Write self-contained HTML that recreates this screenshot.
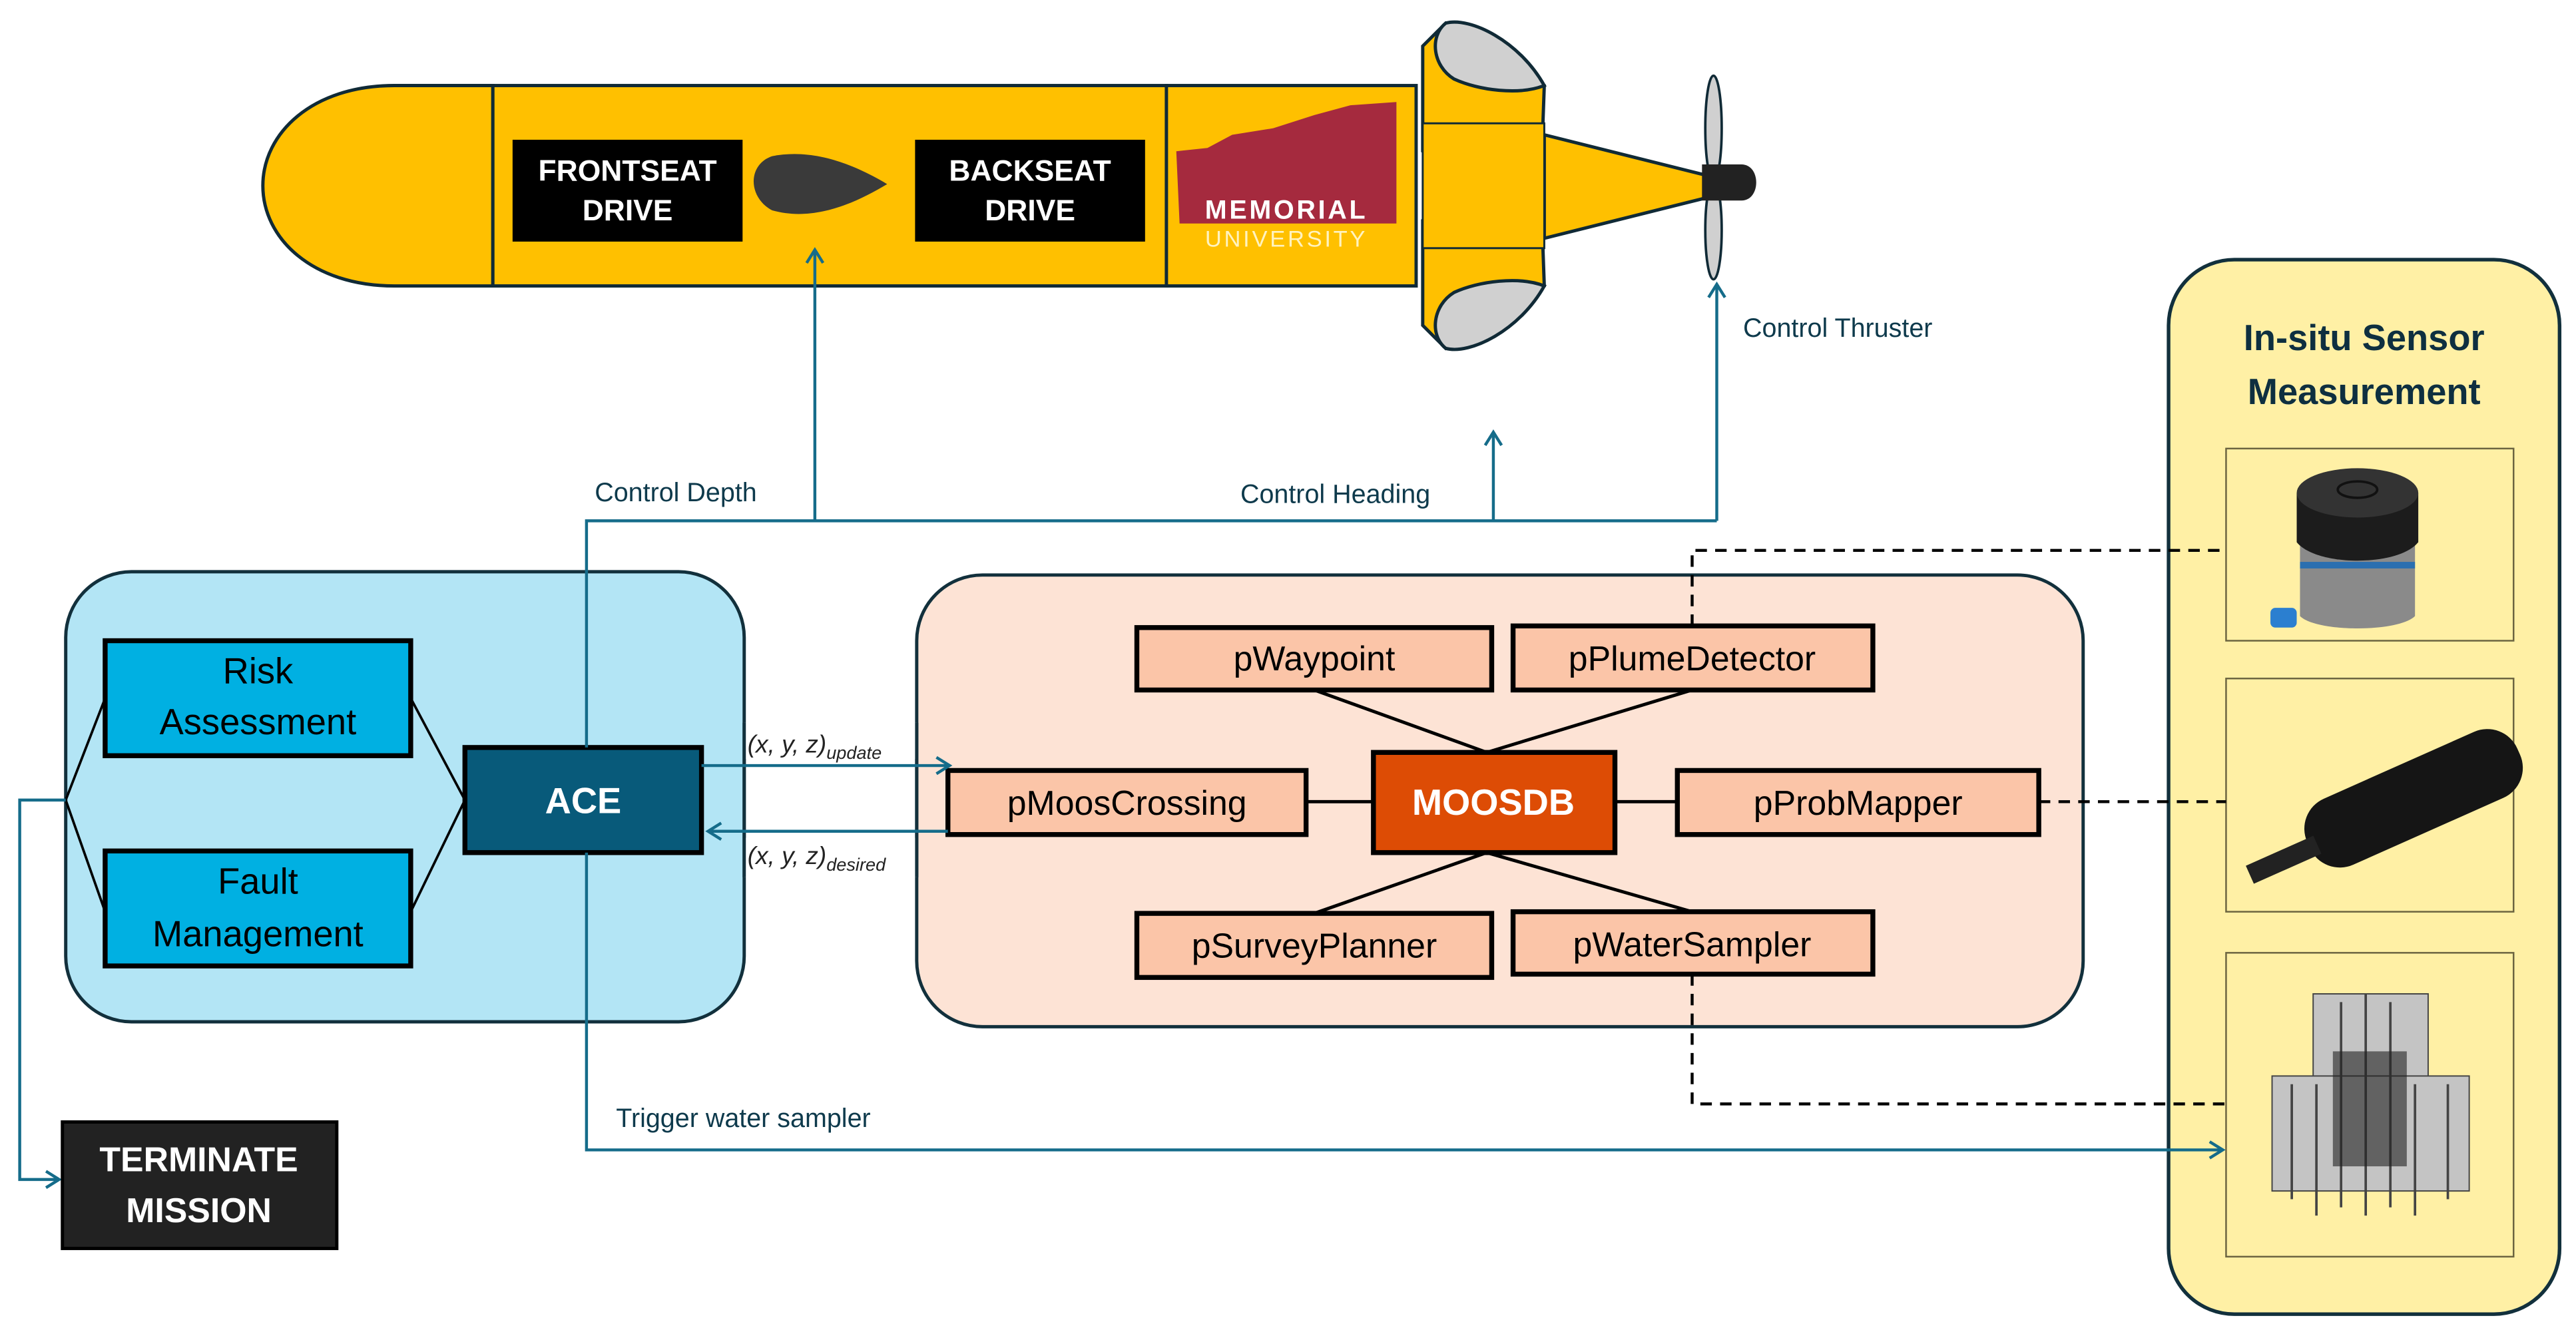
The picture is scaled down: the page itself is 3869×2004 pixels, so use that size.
<!DOCTYPE html>
<html><head><meta charset="utf-8"><style>
html,body{margin:0;padding:0;background:#fff}
svg{display:block}
text{font-family:"Liberation Sans",sans-serif}
</style></head><body>
<svg width="3869" height="2004" viewBox="0 0 1568 812" xmlns="http://www.w3.org/2000/svg">
<defs>
<marker id="ar" markerWidth="12" markerHeight="12" refX="9" refY="6" orient="auto" markerUnits="userSpaceOnUse">
<path d="M1,1 L9,6 L1,11" fill="none" stroke="#156c8a" stroke-width="1.8"/>
</marker>
</defs>

<!-- Vehicle -->
<g stroke="#102a36" stroke-width="2">
<path d="M300,52 L300,174 L240,174 C190,174 160,145 160,113 C160,81 190,52 240,52 Z" fill="#ffc000"/>
<rect x="300" y="52" width="410" height="122" fill="#ffc000"/>
<rect x="710" y="52" width="152" height="122" fill="#ffc000"/>
<path d="M940,82 L1040,107 L1040,120 L940,145 Z" fill="#ffc000"/>
<path d="M866,28 L880,14 L940,52 L938,108 L882,108 L866,92 Z" fill="#ffc000"/>
<path d="M880,14 C895,10 925,25 940,52 C925,58 900,55 885,48 C872,40 870,22 880,14 Z" fill="#d0d0d0"/>
<path d="M866,198 L880,212 L940,174 L938,118 L882,118 L866,134 Z" fill="#ffc000"/>
<path d="M880,212 C895,216 925,201 940,174 C925,168 900,171 885,178 C872,186 870,204 880,212 Z" fill="#d0d0d0"/>
<rect x="866" y="75" width="74" height="76" fill="#ffc000" stroke-width="1.2"/>
</g>
<ellipse cx="1043" cy="78" rx="5" ry="32" fill="#d0d0d0" stroke="#102a36" stroke-width="1.5"/>
<ellipse cx="1043" cy="140" rx="5" ry="30" fill="#d0d0d0" stroke="#102a36" stroke-width="1.5"/>
<path d="M1036,100 L1060,100 C1072,100 1072,122 1060,122 L1036,122 Z" fill="#222"/>

<rect x="312" y="85" width="140" height="62" fill="#000"/>
<text x="382" y="110" fill="#fff" font-size="18" font-weight="bold" text-anchor="middle">FRONTSEAT</text>
<text x="382" y="134" fill="#fff" font-size="18" font-weight="bold" text-anchor="middle">DRIVE</text>
<path d="M470,95 C495,90 520,100 540,112 C520,124 495,135 470,128 C455,120 455,100 470,95 Z" fill="#3a3a3a"/>
<rect x="557" y="85" width="140" height="62" fill="#000"/>
<text x="627" y="110" fill="#fff" font-size="18" font-weight="bold" text-anchor="middle">BACKSEAT</text>
<text x="627" y="134" fill="#fff" font-size="18" font-weight="bold" text-anchor="middle">DRIVE</text>
<path d="M716,92 L735,90 L750,82 L775,78 L800,70 L822,64 L850,62 L850,136 L718,136 Z" fill="#a52a3e"/>
<text x="783" y="133" fill="#fff" font-size="16" font-weight="bold" text-anchor="middle" letter-spacing="1.5">MEMORIAL</text>
<text x="783" y="150" fill="#fff3c0" font-size="14" text-anchor="middle" letter-spacing="1.5">UNIVERSITY</text>

<!-- Sensor panel -->
<rect x="1320" y="158" width="238" height="642" rx="40" fill="#fff0a5" stroke="#12303c" stroke-width="2.2"/>
<text x="1439" y="213" fill="#0e2f40" font-size="22" font-weight="bold" text-anchor="middle">In-situ Sensor</text>
<text x="1439" y="246" fill="#0e2f40" font-size="22" font-weight="bold" text-anchor="middle">Measurement</text>
<g fill="#fff0a5" stroke="#6b6440" stroke-width="1">
<rect x="1355" y="273" width="175" height="117"/>
<rect x="1355" y="413" width="175" height="142"/>
<rect x="1355" y="580" width="175" height="185"/>
</g>
<!-- sensor 1 -->
<path d="M1400,320 L1400,375 C1410,385 1460,385 1470,375 L1470,320 Z" fill="#8a8a8a"/>
<rect x="1400" y="342" width="70" height="4" fill="#2b6fb0"/>
<path d="M1398,300 L1398,330 C1410,345 1460,345 1472,330 L1472,300 Z" fill="#1c1c1c"/>
<ellipse cx="1435" cy="300" rx="37" ry="15" fill="#333"/>
<ellipse cx="1435" cy="298" rx="12" ry="5" fill="none" stroke="#111" stroke-width="1.5"/>
<rect x="1382" y="370" width="16" height="12" rx="3" fill="#2b7fd0"/>
<!-- sensor 2 -->
<g transform="rotate(-24 1460 490)">
<rect x="1400" y="468" width="140" height="44" rx="20" fill="#151515"/>
<rect x="1360" y="486" width="45" height="12" fill="#222"/>
</g>
<!-- sensor 3 -->
<g fill="#c4c4c4" stroke="#444" stroke-width="0.8">
<rect x="1408" y="605" width="70" height="55"/>
<rect x="1383" y="655" width="120" height="70"/>
</g>
<g stroke="#444" stroke-width="1.5">
<line x1="1395" y1="660" x2="1395" y2="730"/><line x1="1410" y1="660" x2="1410" y2="740"/><line x1="1425" y1="610" x2="1425" y2="735"/><line x1="1440" y1="605" x2="1440" y2="740"/><line x1="1455" y1="610" x2="1455" y2="735"/><line x1="1470" y1="660" x2="1470" y2="740"/><line x1="1490" y1="660" x2="1490" y2="730"/>
</g>
<rect x="1420" y="640" width="45" height="70" fill="#222" opacity="0.6"/>

<!-- Blue panel -->
<rect x="40" y="348" width="413" height="274" rx="40" fill="#b3e5f5" stroke="#12303c" stroke-width="2"/>
<g stroke="#000" stroke-width="1.5" fill="none">
<path d="M40,487 L64,425 M40,487 L64,555 M250,425 L283,487 M250,555 L283,487"/>
</g>
<rect x="64" y="390" width="186" height="70" fill="#00b0e2" stroke="#000" stroke-width="3"/>
<text x="157" y="416" font-size="22" text-anchor="middle" fill="#000">Risk</text>
<text x="157" y="447" font-size="22" text-anchor="middle" fill="#000">Assessment</text>
<rect x="64" y="518" width="186" height="70" fill="#00b0e2" stroke="#000" stroke-width="3"/>
<text x="157" y="544" font-size="22" text-anchor="middle" fill="#000">Fault</text>
<text x="157" y="576" font-size="22" text-anchor="middle" fill="#000">Management</text>
<rect x="283" y="455" width="144" height="64" fill="#085a7a" stroke="#000" stroke-width="3"/>
<text x="355" y="495" font-size="22" font-weight="bold" text-anchor="middle" fill="#fff">ACE</text>

<!-- Orange panel -->
<rect x="558" y="350" width="710" height="275" rx="40" fill="#fde3d5" stroke="#12303c" stroke-width="2"/>
<g stroke="#000" stroke-width="2">
<path d="M800,420 L905,458 M1030,420 L905,458 M905,519 L800,556 M905,519 L1030,555 M795,488 L836,488 M983,488 L1021,488"/>
</g>
<g fill="#fbc5a8" stroke="#000" stroke-width="3">
<rect x="692" y="382" width="216" height="38"/>
<rect x="921" y="381" width="219" height="39"/>
<rect x="577" y="469" width="218" height="39"/>
<rect x="1021" y="469" width="220" height="39"/>
<rect x="692" y="556" width="216" height="39"/>
<rect x="921" y="555" width="219" height="38"/>
</g>
<rect x="836" y="458" width="147" height="61" fill="#dd4c05" stroke="#000" stroke-width="3"/>
<g font-size="21" text-anchor="middle" fill="#000">
<text x="800" y="408">pWaypoint</text>
<text x="1030" y="408">pPlumeDetector</text>
<text x="686" y="496">pMoosCrossing</text>
<text x="1131" y="496">pProbMapper</text>
<text x="800" y="583">pSurveyPlanner</text>
<text x="1030" y="582">pWaterSampler</text>
</g>
<text x="909" y="496" font-size="22" font-weight="bold" text-anchor="middle" fill="#fff">MOOSDB</text>

<!-- dashed -->
<g stroke="#000" stroke-width="1.8" stroke-dasharray="7,5" fill="none">
<path d="M1030,381 L1030,335 L1355,335"/>
<path d="M1241,488 L1355,488"/>
<path d="M1030,593 L1030,672 L1355,672"/>
</g>

<!-- labels with white bg -->
<rect x="453" y="440" width="105" height="22" fill="#fff"/>
<rect x="453" y="510" width="105" height="24" fill="#fff"/>
<line x1="453" y1="440" x2="453" y2="534" stroke="#12303c" stroke-width="2"/>
<line x1="558" y1="440" x2="558" y2="534" stroke="#12303c" stroke-width="2"/>
<text x="455" y="458" font-family="Liberation Serif,serif" font-style="italic" font-size="15" fill="#222">(x, y, z)<tspan font-size="11" dy="4">update</tspan></text>
<text x="455" y="526" font-family="Liberation Serif,serif" font-style="italic" font-size="15" fill="#222">(x, y, z)<tspan font-size="11" dy="4">desired</tspan></text>

<!-- teal connectors -->
<g stroke="#156c8a" stroke-width="1.8" fill="none">
<path d="M427,466 L578,466" marker-end="url(#ar)"/>
<path d="M577,506 L431,506" marker-end="url(#ar)"/>
<path d="M357,455 L357,317 L1045,317"/>
<path d="M496,317 L496,152" marker-end="url(#ar)"/>
<path d="M909,317 L909,263" marker-end="url(#ar)"/>
<path d="M1045,317 L1045,173" marker-end="url(#ar)"/>
<path d="M357,519 L357,700 L1353,700" marker-end="url(#ar)"/>
<path d="M40,487 L12,487 L12,718 L36,718" marker-end="url(#ar)"/>
</g>
<g font-size="16" fill="#0e3a4c">
<text x="362" y="305">Control Depth</text>
<text x="755" y="306">Control Heading</text>
<text x="1061" y="205">Control Thruster</text>
<text x="375" y="686">Trigger water sampler</text>
</g>

<!-- Terminate -->
<rect x="38" y="683" width="167" height="77" fill="#222" stroke="#000" stroke-width="2"/>
<text x="121" y="713" font-size="21" font-weight="bold" text-anchor="middle" fill="#fff">TERMINATE</text>
<text x="121" y="744" font-size="21" font-weight="bold" text-anchor="middle" fill="#fff">MISSION</text>
</svg>
</body></html>
